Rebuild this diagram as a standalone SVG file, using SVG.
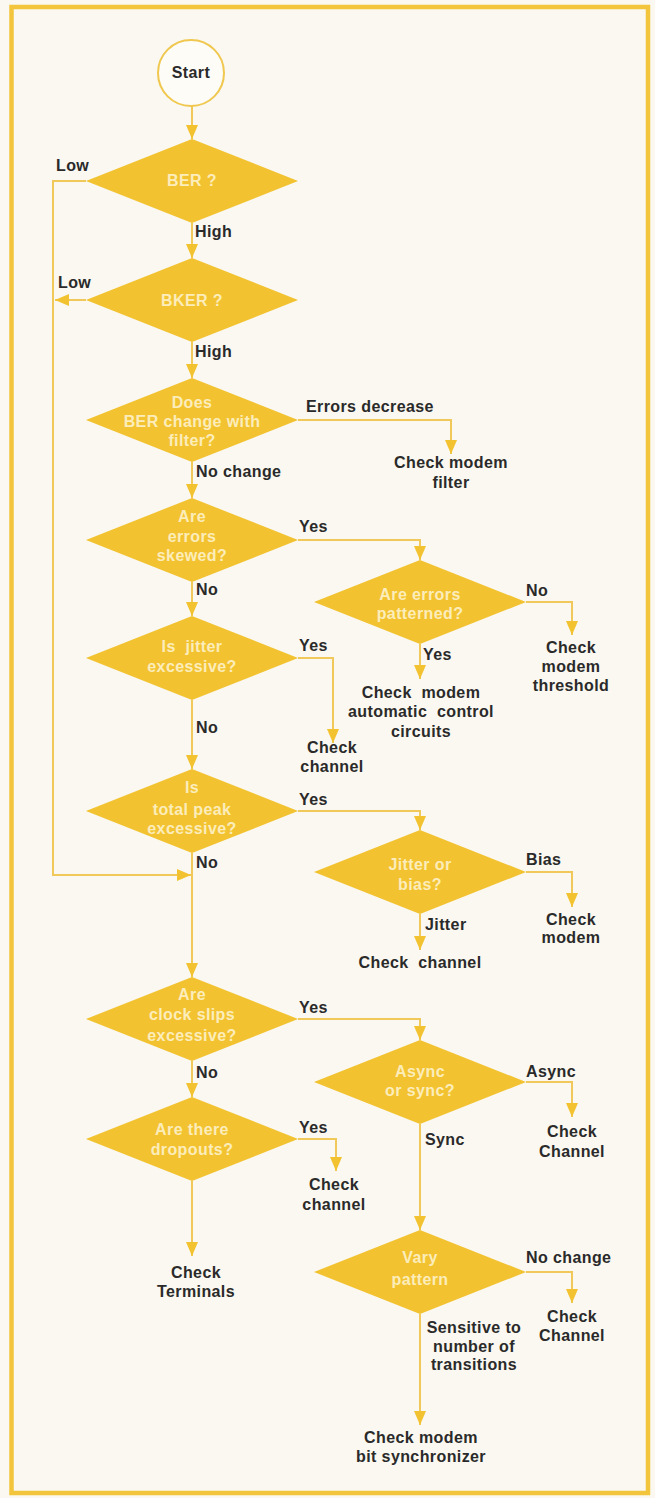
<svg xmlns="http://www.w3.org/2000/svg" width="655" height="1498" viewBox="0 0 655 1498">
<defs>
<style>
.bg{fill:#FAF8F0}
.frame{fill:none;stroke:#F2C53D;stroke-width:4.5}
.dia{fill:#F2C230}
.start{fill:#FDFCF7;stroke:#F0C850;stroke-width:2}
.ln{fill:none;stroke:#F0C95A;stroke-width:2}
text{font-family:"Liberation Sans",Arial,sans-serif;font-size:16px;font-weight:bold;letter-spacing:0.4px}
.lab{fill:#2A2A2A}
.in{fill:#FCEDBB;text-anchor:middle;white-space:pre}
.c{text-anchor:middle;white-space:pre}
</style>
<marker id="ah" viewBox="0 0 14 12" refX="14" refY="6" markerWidth="14" markerHeight="12" markerUnits="userSpaceOnUse" orient="auto">
<path d="M0,0 L14,6 L0,12 z" fill="#F2C230"/>
</marker>
</defs>
<rect class="bg" x="0" y="0" width="655" height="1498"/>
<rect class="frame" x="11.5" y="7" width="636.5" height="1486"/>

<g id="connectors">
<path class="ln" d="M192,106 V139" marker-end="url(#ah)"/>
<path class="ln" d="M192,223 V258" marker-end="url(#ah)"/>
<path class="ln" d="M192,342 V378" marker-end="url(#ah)"/>
<path class="ln" d="M192,462 V498" marker-end="url(#ah)"/>
<path class="ln" d="M192,582 V616" marker-end="url(#ah)"/>
<path class="ln" d="M192,700 V769" marker-end="url(#ah)"/>
<path class="ln" d="M192,853 V977" marker-end="url(#ah)"/>
<path class="ln" d="M192,1061 V1097" marker-end="url(#ah)"/>
<path class="ln" d="M192,1181 V1256" marker-end="url(#ah)"/>
<path class="ln" d="M86,181 H53 V875 H191" marker-end="url(#ah)"/>
<path class="ln" d="M86,300 H55" marker-end="url(#ah)"/>
<path class="ln" d="M298,420 H451 V454" marker-end="url(#ah)"/>
<path class="ln" d="M298,540 H420 V560" marker-end="url(#ah)"/>
<path class="ln" d="M526,602 H572 V635" marker-end="url(#ah)"/>
<path class="ln" d="M420,644 V679" marker-end="url(#ah)"/>
<path class="ln" d="M298,658 H333 V743" marker-end="url(#ah)"/>
<path class="ln" d="M298,811 H420 V830" marker-end="url(#ah)"/>
<path class="ln" d="M526,872 H572 V907" marker-end="url(#ah)"/>
<path class="ln" d="M420,914 V950" marker-end="url(#ah)"/>
<path class="ln" d="M298,1019 H420 V1040" marker-end="url(#ah)"/>
<path class="ln" d="M526,1082 H572 V1117" marker-end="url(#ah)"/>
<path class="ln" d="M420,1124 V1230" marker-end="url(#ah)"/>
<path class="ln" d="M298,1139 H336 V1171" marker-end="url(#ah)"/>
<path class="ln" d="M526,1272 H572 V1303" marker-end="url(#ah)"/>
<path class="ln" d="M420,1314 V1425" marker-end="url(#ah)"/>
</g>

<g id="labels">
<text class="lab" x="56" y="171">Low</text>
<text class="lab" x="195" y="237">High</text>
<text class="lab" x="58" y="288">Low</text>
<text class="lab" x="195" y="357">High</text>
<text class="lab" x="306" y="412">Errors decrease</text>
<text class="lab" x="196" y="477">No change</text>
<text class="lab" x="299" y="532">Yes</text>
<text class="lab" x="196" y="595">No</text>
<text class="lab" x="526" y="596">No</text>
<text class="lab" x="423" y="660">Yes</text>
<text class="lab" x="299" y="651">Yes</text>
<text class="lab" x="196" y="733">No</text>
<text class="lab" x="299" y="805">Yes</text>
<text class="lab" x="196" y="868">No</text>
<text class="lab" x="526" y="865">Bias</text>
<text class="lab" x="425" y="930">Jitter</text>
<text class="lab" x="299" y="1013">Yes</text>
<text class="lab" x="196" y="1078">No</text>
<text class="lab" x="526" y="1077">Async</text>
<text class="lab" x="425" y="1145">Sync</text>
<text class="lab" x="299" y="1133">Yes</text>
<text class="lab" x="526" y="1263">No change</text>
<text class="lab c" x="474" y="1333">Sensitive to</text>
<text class="lab c" x="474" y="1352">number of</text>
<text class="lab c" x="474" y="1370">transitions</text>
</g>

<g id="start">
<circle class="start" cx="191" cy="73" r="33"/>
<text class="lab c" x="191" y="78">Start</text>
</g>

<g id="ber">
<polygon class="dia" points="192,139 298,181 192,223 86,181"/>
<text class="in" x="192" y="186">BER ?</text>
</g>
<g id="bker">
<polygon class="dia" points="192,258 298,300 192,342 86,300"/>
<text class="in" x="192" y="306">BKER ?</text>
</g>
<g id="filter">
<polygon class="dia" points="192,378 298,420 192,462 86,420"/>
<text class="in" x="192" y="408">Does</text>
<text class="in" x="192" y="427">BER change with</text>
<text class="in" x="192" y="446">filter?</text>
</g>
<g id="skewed">
<polygon class="dia" points="192,498 298,540 192,582 86,540"/>
<text class="in" x="192" y="522">Are</text>
<text class="in" x="192" y="542">errors</text>
<text class="in" x="192" y="561">skewed?</text>
</g>
<g id="jitter">
<polygon class="dia" points="192,616 298,658 192,700 86,658"/>
<text class="in" x="192" y="652">Is  jitter</text>
<text class="in" x="192" y="672">excessive?</text>
</g>
<g id="totalpeak">
<polygon class="dia" points="192,769 298,811 192,853 86,811"/>
<text class="in" x="192" y="793">Is</text>
<text class="in" x="192" y="815">total peak</text>
<text class="in" x="192" y="834">excessive?</text>
</g>
<g id="clockslips">
<polygon class="dia" points="192,977 298,1019 192,1061 86,1019"/>
<text class="in" x="192" y="1000">Are</text>
<text class="in" x="192" y="1020">clock slips</text>
<text class="in" x="192" y="1041">excessive?</text>
</g>
<g id="dropouts">
<polygon class="dia" points="192,1097 298,1139 192,1181 86,1139"/>
<text class="in" x="192" y="1135">Are there</text>
<text class="in" x="192" y="1155">dropouts?</text>
</g>
<g id="patterned">
<polygon class="dia" points="420,560 526,602 420,644 314,602"/>
<text class="in" x="420" y="600">Are errors</text>
<text class="in" x="420" y="619">patterned?</text>
</g>
<g id="jitterbias">
<polygon class="dia" points="420,830 526,872 420,914 314,872"/>
<text class="in" x="420" y="870">Jitter or</text>
<text class="in" x="420" y="890">bias?</text>
</g>
<g id="asyncsync">
<polygon class="dia" points="420,1040 526,1082 420,1124 314,1082"/>
<text class="in" x="420" y="1077">Async</text>
<text class="in" x="420" y="1096">or sync?</text>
</g>
<g id="vary">
<polygon class="dia" points="420,1230 526,1272 420,1314 314,1272"/>
<text class="in" x="420" y="1263">Vary</text>
<text class="in" x="420" y="1285">pattern</text>
</g>

<g id="check-filter"><text class="lab c" x="451" y="468">Check modem</text><text class="lab c" x="451" y="488">filter</text></g>
<g id="check-threshold"><text class="lab c" x="571" y="653">Check</text><text class="lab c" x="571" y="672">modem</text><text class="lab c" x="571" y="691">threshold</text></g>
<g id="check-agc"><text class="lab c" x="421" y="698">Check  modem</text><text class="lab c" x="421" y="717">automatic  control</text><text class="lab c" x="421" y="737">circuits</text></g>
<g id="check-channel1"><text class="lab c" x="332" y="753">Check</text><text class="lab c" x="332" y="772">channel</text></g>
<g id="check-modem2"><text class="lab c" x="571" y="925">Check</text><text class="lab c" x="571" y="943">modem</text></g>
<g id="check-channel2"><text class="lab c" x="420" y="968">Check  channel</text></g>
<g id="check-channel3"><text class="lab c" x="572" y="1137">Check</text><text class="lab c" x="572" y="1157">Channel</text></g>
<g id="check-channel4"><text class="lab c" x="334" y="1190">Check</text><text class="lab c" x="334" y="1210">channel</text></g>
<g id="check-terminals"><text class="lab c" x="196" y="1278">Check</text><text class="lab c" x="196" y="1297">Terminals</text></g>
<g id="check-channel5"><text class="lab c" x="572" y="1322">Check</text><text class="lab c" x="572" y="1341">Channel</text></g>
<g id="check-bitsync"><text class="lab c" x="421" y="1443">Check modem</text><text class="lab c" x="421" y="1462">bit synchronizer</text></g>
</svg>
